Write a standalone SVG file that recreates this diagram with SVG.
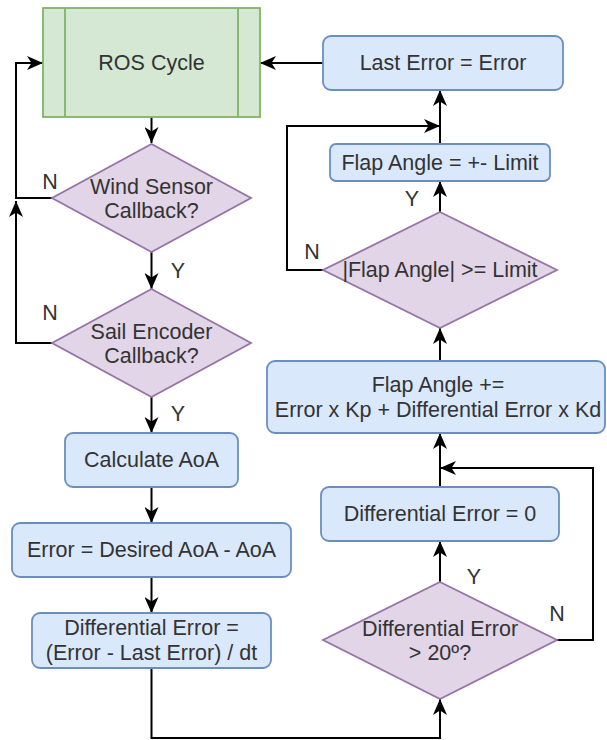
<svg xmlns="http://www.w3.org/2000/svg" width="607" height="740" viewBox="0 0 607 740">
  <defs>
    <marker id="arrow" markerUnits="userSpaceOnUse" markerWidth="18" markerHeight="14" viewBox="0 0 18 14" refX="16" refY="7" orient="auto">
      <path d="M0,0 L16,7 L0,14 L4.5,7 Z" fill="#000"/>
    </marker>
  </defs>
  <style>
    .proc { fill: #dae8fc; stroke: #6c8ebf; stroke-width: 1.8; }
    .dec { fill: #e1d5e7; stroke: #9673a6; stroke-width: 1.8; }
    .sub { fill: #d5e8d4; stroke: #82b366; stroke-width: 1.8; }
    .lbl { font-family: "Liberation Sans", Arial, Helvetica, sans-serif; font-size: 21.5px; fill: #333333; text-anchor: middle; dominant-baseline: central; }
    .edge { fill: none; stroke: #000; stroke-width: 2; marker-end: url(#arrow); }
  </style>

  <!-- connectors -->
  <g id="connectors">
    <path class="edge" d="M151.5,117 V143"/>
    <path class="edge" d="M52,198 H16 V63 H43"/>
    <path class="edge" d="M151.5,252 V289"/>
    <path class="edge" d="M52,343 H16 V201"/>
    <path class="edge" d="M151.5,397 V433"/>
    <path class="edge" d="M151.5,487 V523"/>
    <path class="edge" d="M151.5,577 V613"/>
    <path class="edge" d="M151.5,668 V738 H440 V699"/>
    <path class="edge" d="M440,582 V541"/>
    <path class="edge" d="M557,640 H593 V468 H440"/>
    <path class="edge" d="M440,487 V433"/>
    <path class="edge" d="M440,361 V328"/>
    <path class="edge" d="M440,212 V181"/>
    <path class="edge" d="M323,270 H287 V126 H440"/>
    <path class="edge" d="M440,144 V90"/>
    <path class="edge" d="M323,63 H260"/>
    <!-- branch labels -->
    <text class="lbl" x="50" y="182">N</text>
    <text class="lbl" x="178" y="271">Y</text>
    <text class="lbl" x="50" y="313">N</text>
    <text class="lbl" x="178" y="414">Y</text>
    <text class="lbl" x="474" y="577">Y</text>
    <text class="lbl" x="557" y="614">N</text>
    <text class="lbl" x="412" y="199">Y</text>
    <text class="lbl" x="312" y="252">N</text>
  </g>

  <!-- nodes -->
  <g id="ros-cycle">
    <rect class="sub" x="43" y="8" width="217" height="109"/>
    <line class="sub" x1="65" y1="8" x2="65" y2="117"/>
    <line class="sub" x1="238" y1="8" x2="238" y2="117"/>
    <text class="lbl" x="151.5" y="63">ROS Cycle</text>
  </g>

  <g id="wind-sensor">
    <polygon class="dec" points="151.5,144 251,198 151.5,252 52,198"/>
    <text class="lbl" x="151.5" y="187">Wind Sensor</text>
    <text class="lbl" x="151.5" y="211">Callback?</text>
  </g>

  <g id="sail-encoder">
    <polygon class="dec" points="151.5,289 251,343 151.5,397 52,343"/>
    <text class="lbl" x="151.5" y="332">Sail Encoder</text>
    <text class="lbl" x="151.5" y="356">Callback?</text>
  </g>

  <g id="calc-aoa">
    <rect class="proc" x="65" y="433" width="173" height="54" rx="8"/>
    <text class="lbl" x="151.5" y="460">Calculate AoA</text>
  </g>

  <g id="error">
    <rect class="proc" x="12" y="523" width="279" height="54" rx="8"/>
    <text class="lbl" x="151.5" y="550">Error = Desired AoA - AoA</text>
  </g>

  <g id="diff-error">
    <rect class="proc" x="32" y="613" width="239" height="55" rx="8"/>
    <text class="lbl" x="151.5" y="628">Differential Error =</text>
    <text class="lbl" x="151.5" y="653">(Error - Last Error) / dt</text>
  </g>

  <g id="diff-check">
    <polygon class="dec" points="440,582 557,640 440,699 323,640"/>
    <text class="lbl" x="440" y="629">Differential Error</text>
    <text class="lbl" x="440" y="653">&gt; 20º?</text>
  </g>

  <g id="diff-zero">
    <rect class="proc" x="321" y="487" width="238" height="54" rx="8"/>
    <text class="lbl" x="440" y="514">Differential Error = 0</text>
  </g>

  <g id="flap-update">
    <rect class="proc" x="267" y="361" width="338" height="72" rx="8"/>
    <text class="lbl" x="438" y="385">Flap Angle +=</text>
    <text class="lbl" x="438" y="410">Error x Kp + Differential Error x Kd</text>
  </g>

  <g id="limit-check">
    <polygon class="dec" points="440,212 557,270 440,328 323,270"/>
    <text class="lbl" x="440" y="270">|Flap Angle| &gt;= Limit</text>
  </g>

  <g id="flap-limit">
    <rect class="proc" x="330" y="144" width="220" height="37" rx="6"/>
    <text class="lbl" x="440" y="163">Flap Angle = +- Limit</text>
  </g>

  <g id="last-error">
    <rect class="proc" x="323" y="36" width="240" height="54" rx="8"/>
    <text class="lbl" x="443" y="63">Last Error = Error</text>
  </g>
</svg>
